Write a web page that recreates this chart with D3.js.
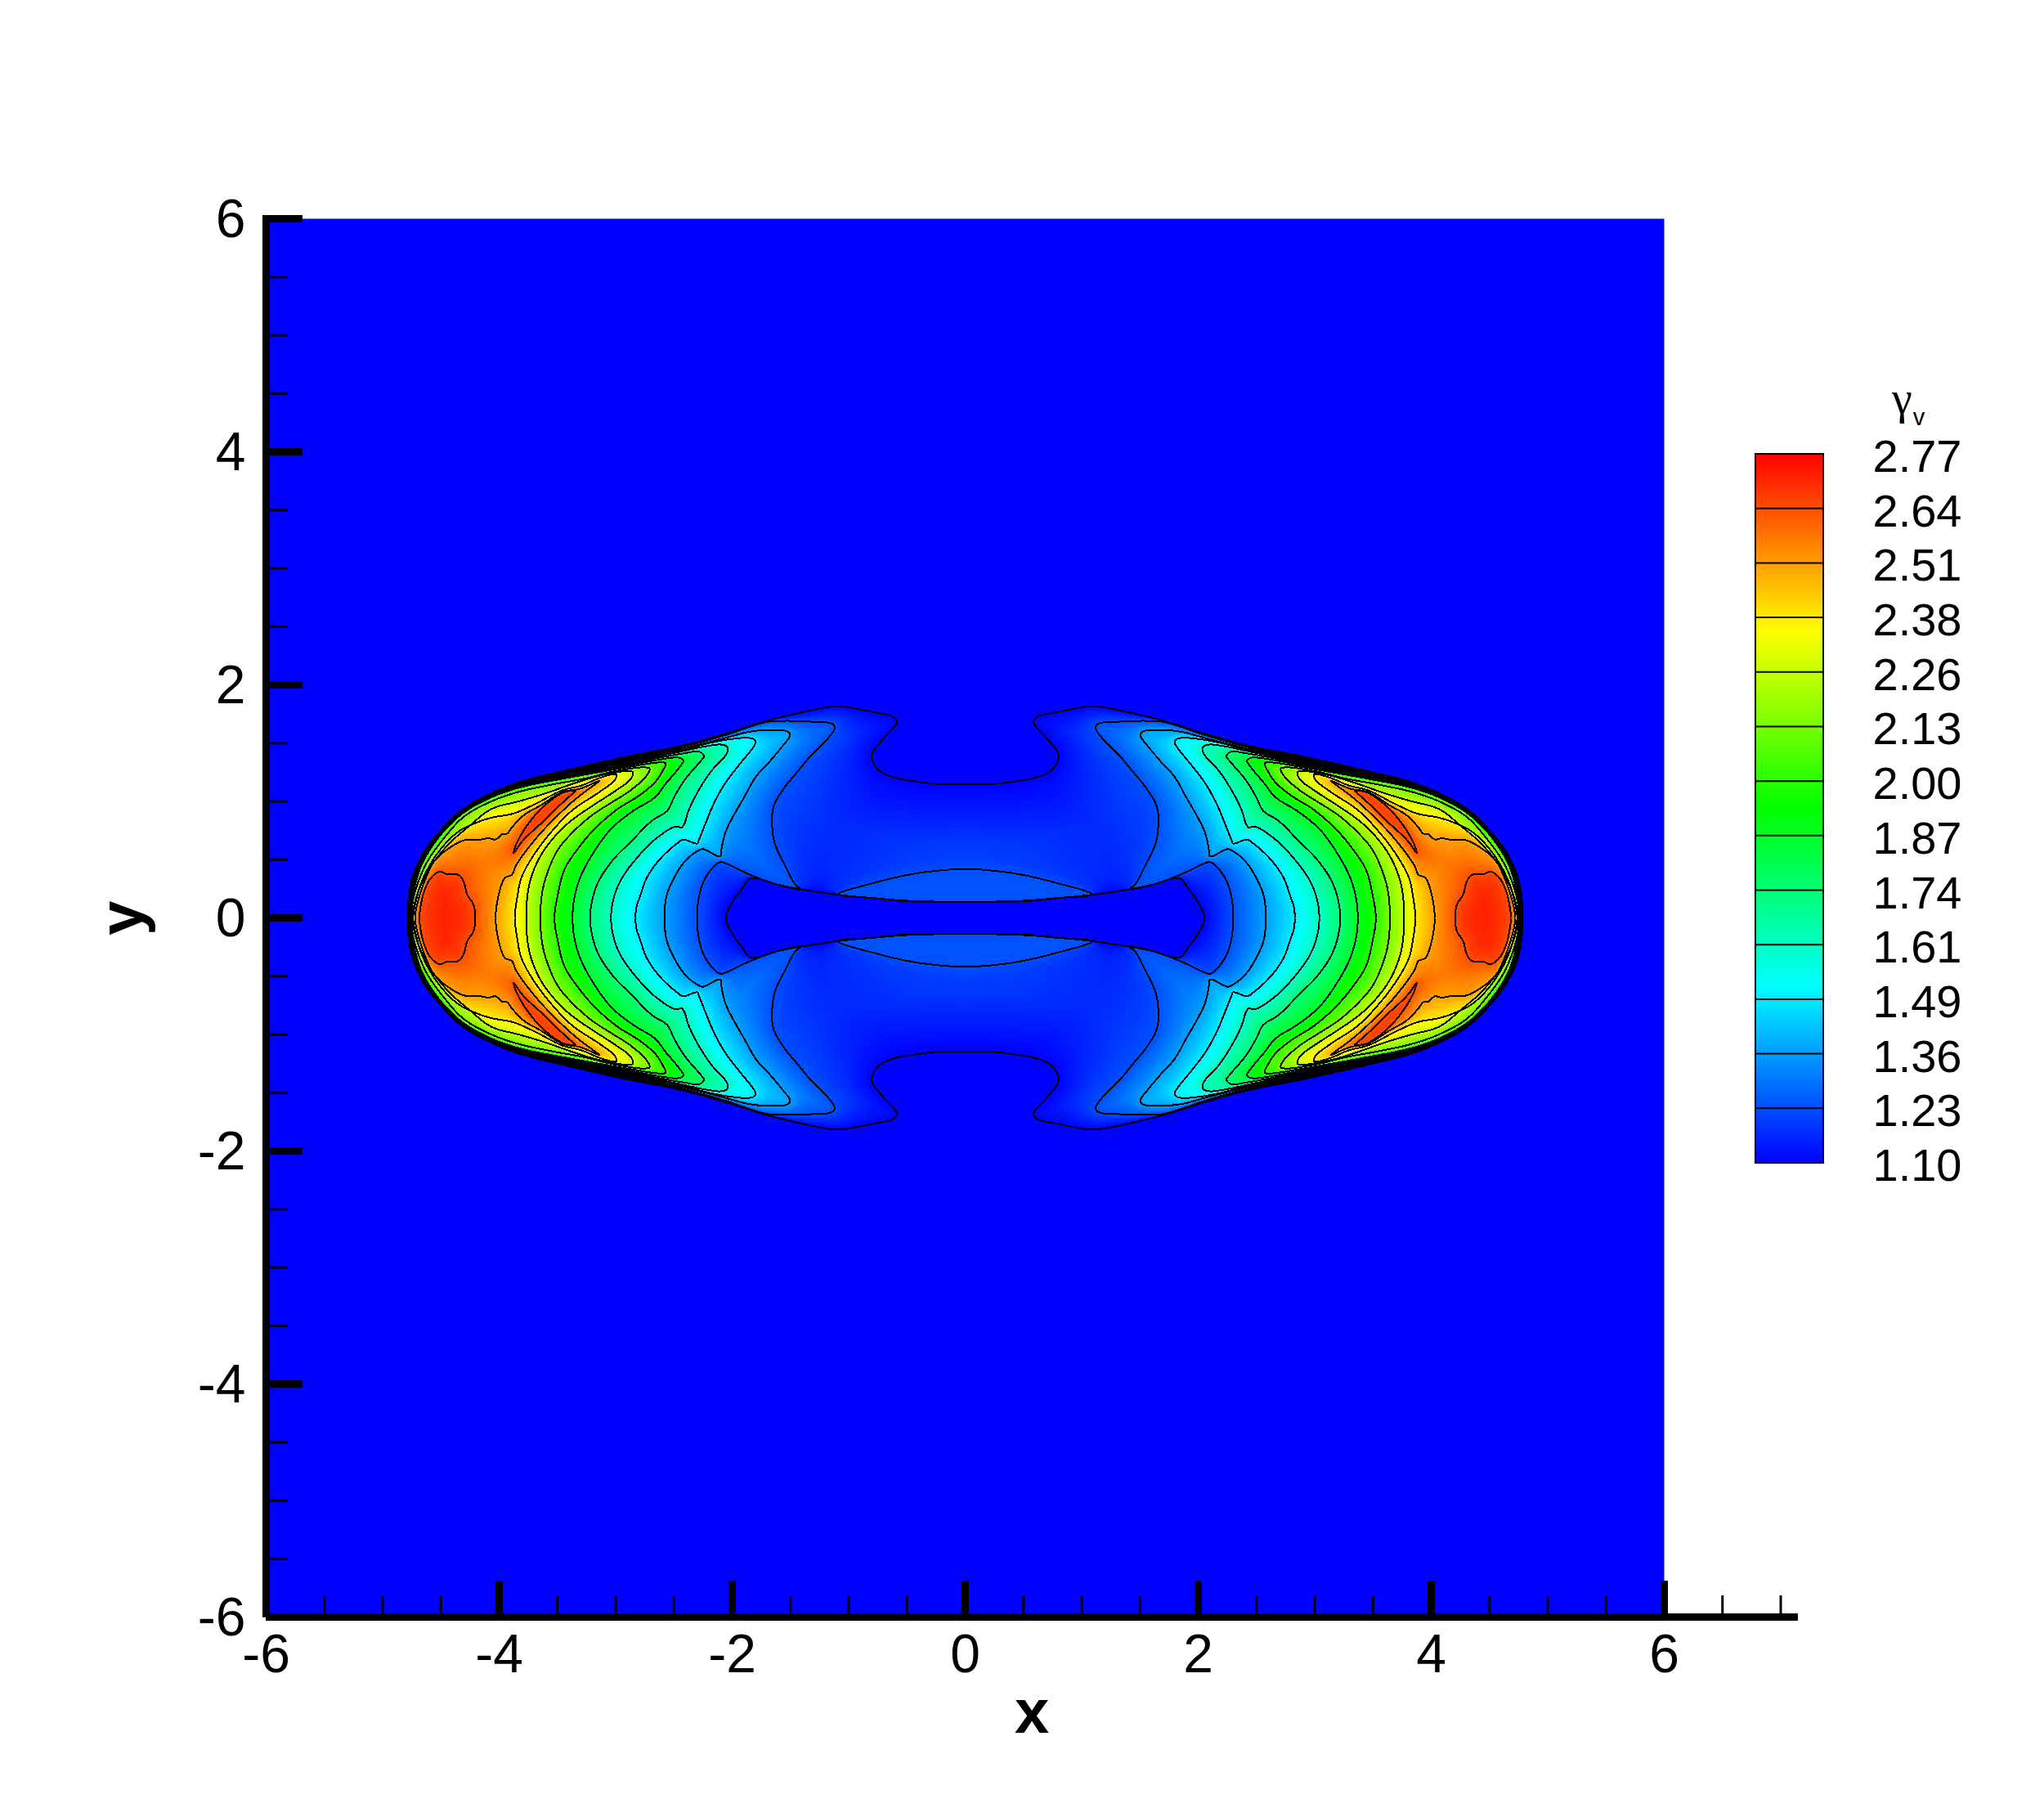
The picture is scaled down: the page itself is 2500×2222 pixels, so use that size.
<!DOCTYPE html>
<html><head><meta charset="utf-8">
<script src="https://cdn.jsdelivr.net/npm/d3@7"></script>
<style>html,body{margin:0;padding:0;background:#fff}svg{display:block}text{font-family:"Liberation Sans",Arial,sans-serif;fill:#000}</style>
</head><body><div id="chart"></div>
<script>
// colour bar labels and colour map stops
const legendLabels = ["2.77","2.64","2.51","2.38","2.26","2.13","2.00","1.87","1.74","1.61","1.49","1.36","1.23","1.10"];
const colorStops = [1.10,1.5175,1.935,2.3525,2.77];
const colorNames = ["#0000ff","#00ffff","#00ff00","#ffff00","#ff0000"];
const xMajor = [-6,-4,-2,0,2,4,6];
const xMinor = [-5.5,-5,-4.5,-3.5,-3,-2.5,-1.5,-1,-0.5,0.5,1,1.5,2.5,3,3.5,4.5,5,5.5,6.5,7];
const yMajor = [-6,-4,-2,0,2,4,6];
const yMinor = [-5.5,-5,-4.5,-3.5,-3,-2.5,-1.5,-1,-0.5,0.5,1,1.5,2.5,3,3.5,4.5,5,5.5];

// contour lines of gamma_v, one quadrant (x>=0, y>=0); the field is symmetric
const c110 = [[2.055,0],[1.985,.158],[1.915,.251],[1.84,.34],[1.611,.286],[1.412,.246],[1.073,.197],[.792,.169],[.558,.146],[.25,.135],[0,.135],[0,1.145],[.25,1.15],[.45,1.175],[.558,1.192],[.722,1.252],[.792,1.339],[.799,1.409],[.733,1.503],[.652,1.596],[.586,1.678],[.616,1.725],[.792,1.767],[1.049,1.814],[1.143,1.814],[1.494,1.744],[1.774,1.671],[2.008,1.596],[2.429,1.479],[2.897,1.386],[3.365,1.281],[3.833,1.164],[4.067,1.07],[4.3,.942],[4.487,.766],[4.651,.556],[4.745,.345],[4.78,.135],[4.785,0]];
const lens123 = [[0,.42],[.33,.395],[.558,.356],[.792,.298],[1.073,.216],[1.09,.2],[.8,.172],[.55,.15],[.25,.14],[0,.14]];
const c123 = [[2.30,0],[2.289,.158],[2.242,.321],[2.149,.45],[2.102,.478],[2.055,.469],[1.868,.38],[1.611,.286],[1.412,.246],[1.459,.286],[1.54,.438],[1.634,.637],[1.657,.789],[1.646,.953],[1.552,1.117],[1.447,1.245],[1.33,1.386],[1.19,1.526],[1.119,1.631],[1.143,1.666],[1.353,1.685],[1.681,1.685],[1.868,1.635],[2.008,1.585],[2.43,1.465],[2.897,1.373],[3.365,1.271],[3.833,1.157],[4.067,1.065],[4.3,.937],[4.487,.761],[4.649,.549],[4.739,.345],[4.782,0]];
const c136 = [[2.58,0],[2.565,.181],[2.51,.321],[2.406,.485],[2.289,.579],[2.247,.59],[2.102,.527],[2.09,.602],[2.055,.742],[1.985,.883],[1.891,1.046],[1.798,1.21],[1.681,1.339],[1.564,1.479],[1.505,1.561],[1.517,1.596],[1.681,1.613],[1.868,1.595],[2.0,1.56],[2.43,1.45],[2.897,1.359],[3.365,1.261],[3.833,1.151],[4.067,1.06],[4.3,.932],[4.487,.756],[4.648,.543],[4.734,.345],[4.778,0]];
const c149 = [[2.83,0],[2.82,.1],[2.792,.181],[2.733,.345],[2.617,.508],[2.476,.637],[2.418,.672],[2.301,.637],[2.289,.661],[2.219,.836],[2.149,.999],[2.055,1.163],[1.938,1.316],[1.809,1.479],[1.798,1.514],[1.833,1.542],[2.008,1.535],[2.2,1.5],[2.43,1.44],[2.897,1.346],[3.365,1.251],[3.833,1.144],[4.067,1.055],[4.3,.927],[4.487,.751],[4.646,.536],[4.728,.345],[4.775,0]];
const c161 = [[3.04,0],[3.014,.181],[2.944,.345],[2.803,.532],[2.663,.673],[2.488,.785],[2.429,.778],[2.371,.93],[2.289,1.093],[2.172,1.269],[2.055,1.397],[2.036,1.456],[2.078,1.486],[2.242,1.47],[2.43,1.43],[2.897,1.333],[3.365,1.241],[3.833,1.137],[4.067,1.05],[4.3,.922],[4.487,.746],[4.645,.529],[4.722,.345],[4.771,0]];
const c174 = [[3.22,0],[3.2,.158],[3.143,.322],[3.014,.509],[2.874,.649],[2.687,.836],[2.558,.918],[2.499,1.035],[2.406,1.187],[2.266,1.351],[2.242,1.386],[2.277,1.425],[2.429,1.41],[2.897,1.32],[3.365,1.231],[3.833,1.13],[4.067,1.045],[4.3,.917],[4.487,.741],[4.643,.522],[4.717,.345],[4.768,0]];
const c187 = [[3.37,0],[3.353,.181],[3.295,.369],[3.178,.579],[3.038,.766],[2.85,.918],[2.663,1.035],[2.57,1.152],[2.453,1.292],[2.418,1.35],[2.457,1.375],[2.616,1.36],[2.897,1.306],[3.365,1.221],[3.833,1.124],[4.067,1.04],[4.3,.912],[4.487,.736],[4.642,.516],[4.711,.345],[4.764,0]];
const c200 = [[3.525,0],[3.495,.206],[3.44,.415],[3.318,.602],[3.178,.766],[2.991,.929],[2.804,1.046],[2.663,1.163],[2.593,1.269],[2.57,1.327],[2.62,1.335],[2.897,1.293],[3.365,1.211],[3.833,1.117],[4.067,1.035],[4.3,.907],[4.487,.731],[4.64,.509],[4.705,.345],[4.761,0]];
const c213 = [[3.645,0],[3.636,.181],[3.6,.345],[3.5,.579],[3.365,.738],[3.201,.883],[3.038,.988],[2.874,1.093],[2.733,1.222],[2.71,1.285],[3.014,1.257],[3.248,1.199],[3.505,1.152],[3.833,1.082],[4.067,1.0],[4.3,.871],[4.464,.696],[4.628,.463],[4.733,.181],[4.752,0]];
const c226 = [[3.767,0],[3.739,.298],[3.645,.532],[3.505,.719],[3.365,.848],[3.178,.976],[3.014,1.082],[2.874,1.187],[2.85,1.245],[2.87,1.26],[3.131,1.222],[3.365,1.152],[3.599,1.07],[3.833,1.0],[4.067,.935],[4.254,.79],[4.441,.626],[4.604,.415],[4.71,.181],[4.745,0]];
const c238 = [[3.865,0],[3.844,.181],[3.809,.345],[3.692,.556],[3.528,.766],[3.365,.93],[3.154,1.07],[3.014,1.175],[2.991,1.222],[3.0,1.235],[3.142,1.199],[3.295,1.135],[3.458,1.095],[3.692,.977],[3.879,.895],[4.067,.86],[4.207,.813],[4.347,.743],[4.511,.579],[4.651,.345],[4.717,.135],[4.738,0]];
const c251 = [[4.03,0],[4.008,.181],[3.95,.345],[3.891,.369],[3.856,.45],[3.692,.673],[3.529,.848],[3.341,1.023],[3.154,1.164],[3.142,1.176],[3.3,1.11],[3.458,1.08],[3.645,.965],[3.786,.883],[3.879,.79],[3.938,.719],[3.973,.719],[4.031,.673],[4.09,.684],[4.184,.668],[4.3,.666],[4.441,.591],[4.558,.486],[4.628,.345],[4.686,.181],[4.721,0]];
const sliver264 = [[3.34,1.09],[3.435,1.082],[3.552,1.012],[3.669,.907],[3.786,.755],[3.856,.626],[3.875,.556],[3.809,.649],[3.716,.743],[3.599,.848],[3.482,.965],[3.365,1.07],[3.34,1.09]];
const island264 = [[4.207,0],[4.219,.111],[4.277,.205],[4.3,.298],[4.347,.369],[4.441,.373],[4.511,.397],[4.593,.334],[4.651,.205],[4.679,.064],[4.686,0]];
const contourLevels = [1.10,1.23,1.36,1.49,1.61,1.74,1.87,2.00,2.13,2.26,2.38,2.51,2.64];
const contourPoints = [[c110],[c123,lens123],[c136],[c149],[c161],[c174],[c187],[c200],[c213],[c226],[c238],[c251],[sliver264,island264]];

const W=2500,H=2222;
const x=d3.scaleLinear().domain([-6,6]).range([325.5,2035.5]);
const y=d3.scaleLinear().domain([-6,6]).range([1977.5,267.5]);
const xEnd=7.147;
const color=d3.scaleLinear().domain(colorStops).range(colorNames).interpolate(d3.interpolateRgb);
const legendStep=(2.77-1.10)/(legendLabels.length-1);
const legendY=d3.scaleLinear().domain([1.10,2.77]).range([1422,555]);

const svg=d3.select("#chart").append("svg").attr("width",W).attr("height",H).attr("viewBox",[0,0,W,H]);
svg.append("rect").attr("width",W).attr("height",H).attr("fill","#fff");
svg.append("rect").attr("x",x(-6)).attr("y",y(6)).attr("width",x(6)-x(-6)).attr("height",y(-6)-y(6)).attr("fill",color(1.10));

// edges lying on the symmetry axes are not part of a contour
const onAxis=(a,b)=>(a[0]===0&&b[0]===0)||(a[1]===0&&b[1]===0);
function splitRuns(r){const runs=[];let cur=[r[0]];for(let i=1;i<r.length;i++){if(onAxis(r[i-1],r[i])){runs.push(cur);cur=[r[i]];}else cur.push(r[i]);}runs.push(cur);return runs;}
// round a read contour between its read points (centripetal Catmull-Rom), arriving square on the symmetry axes
function ghost(e,n){if(e[1]===0)return [n[0],-n[1]];if(e[0]===0)return [-n[0],n[1]];return [2*e[0]-n[0],2*e[1]-n[1]];}
function roundRun(run,sub){
  if(run.length<3)return run;
  const p=[ghost(run[0],run[1]),...run,ghost(run[run.length-1],run[run.length-2])],out=[run[0]];
  const td=(a,b)=>Math.sqrt(Math.hypot(a[0]-b[0],a[1]-b[1]))||1e-6;
  const mix=(a,b,ta,tb,t)=>[a[0]+(b[0]-a[0])*(t-ta)/(tb-ta),a[1]+(b[1]-a[1])*(t-ta)/(tb-ta)];
  for(let i=1;i<p.length-2;i++){
    const t0=0,t1=t0+td(p[i-1],p[i]),t2=t1+td(p[i],p[i+1]),t3=t2+td(p[i+1],p[i+2]);
    for(let s=1;s<=sub;s++){
      if(s===sub){out.push(p[i+1]);break;}
      const t=t1+(t2-t1)*s/sub;
      const A1=mix(p[i-1],p[i],t0,t1,t),A2=mix(p[i],p[i+1],t1,t2,t),A3=mix(p[i+1],p[i+2],t2,t3,t);
      const B1=mix(A1,A2,t0,t2,t),B2=mix(A2,A3,t1,t3,t);
      out.push(mix(B1,B2,t1,t2,t));
    }
  }
  return out;
}
const contourRings=contourPoints.map(rs=>rs.map(r=>splitRuns(r).flatMap(run=>roundRun(run,4))));
const segs=contourRings.map(rs=>{const s=[];rs.forEach(r=>{for(let i=0;i<r.length-1;i++){if(!onAxis(r[i],r[i+1]))s.push(r[i][0],r[i][1],r[i+1][0],r[i+1][1]);}});return Float64Array.from(s);});
function dist(s,px,py){let m=Infinity;for(let i=0;i<s.length;i+=4){const ax=s[i],ay=s[i+1],dx=s[i+2]-ax,dy=s[i+3]-ay;let t=((px-ax)*dx+(py-ay)*dy)/(dx*dx+dy*dy||1);t=t<0?0:t>1?1:t;const ex=ax+t*dx-px,ey=ay+t*dy-py,d=ex*ex+ey*ey;if(d<m)m=d;}return Math.sqrt(m);}
function field(px,py){
  let k=-1;
  for(let i=0;i<contourRings.length;i++){
    if(contourRings[i].some(r=>d3.polygonContains(r,[px,py])))k=i;else break;
  }
  if(k<0)return 1.10;
  if(k===contourRings.length-1){const d=dist(segs[k],px,py);return contourLevels[k]+.09*(1-Math.exp(-d/.12));}
  const a=dist(segs[k],px,py),b=dist(segs[k+1],px,py);
  return contourLevels[k]+(contourLevels[k+1]-contourLevels[k])*a/(a+b);
}
// colour table
const N=1024,lut=new Uint8ClampedArray(N*3);
for(let i=0;i<N;i++){const c=d3.rgb(color(1.10+(2.77-1.10)*i/(N-1)));lut[i*3]=c.r;lut[i*3+1]=c.g;lut[i*3+2]=c.b;}

// shaded field, mirrored from the quadrant
const hw=Math.ceil(x(4.85)-x(0)),hh=Math.ceil(y(0)-y(1.87));
const cw=2*hw+1,chh=2*hh+1;
const cv=document.createElement("canvas");cv.width=cw;cv.height=chh;
const ctx=cv.getContext("2d"),img=ctx.createImageData(cw,chh);
const cx0=Math.floor(x(0)),cy0=Math.floor(y(0));
for(let j=0;j<=hh;j++){for(let i=0;i<=hw;i++){
  const v=field(x.invert(cx0+i+.5),y.invert(cy0-j+.5));
  const q=Math.max(0,Math.min(N-1,Math.round((v-1.10)/(2.77-1.10)*(N-1))));
  const r=lut[q*3],g=lut[q*3+1],b=lut[q*3+2];
  for(const [mx,my] of [[hw+i,hh-j],[hw-i,hh-j],[hw+i,hh+j],[hw-i,hh+j]]){
    const o=(my*cw+mx)*4;img.data[o]=r;img.data[o+1]=g;img.data[o+2]=b;img.data[o+3]=255;
  }
}}
ctx.putImageData(img,0,0);
svg.append("image").attr("x",cx0-hw).attr("y",cy0-hh).attr("width",cw).attr("height",chh).attr("href",cv.toDataURL("image/png")).style("image-rendering","pixelated");

// contour lines, all four quadrants
const line=d3.line().x(d=>x(d[0])).y(d=>y(d[1]));
const gC=svg.append("g").attr("fill","none").attr("stroke","#000").attr("stroke-width",2).attr("stroke-linejoin","round").attr("shape-rendering","crispEdges");
contourRings.forEach(rs=>rs.forEach(r=>{
  const runs=splitRuns(r);
  for(const sx of [1,-1])for(const sy of [1,-1])runs.forEach(run=>{
    gC.append("path").attr("d",line(run.map(p=>[sx*p[0],sy*p[1]])));
  });
}));

// axes
function styleAxis(g){g.select(".domain").remove();g.selectAll("line").attr("stroke","#000");}
const gxMinor=svg.append("g").attr("transform",`translate(0,${y(-6)})`).call(d3.axisBottom(x).tickValues(xMinor).tickSizeInner(-26.5).tickSizeOuter(0).tickFormat("").offset(0));
styleAxis(gxMinor);gxMinor.selectAll("line").attr("stroke-width",3);
const gyMinor=svg.append("g").attr("transform",`translate(${x(-6)},0)`).call(d3.axisLeft(y).tickValues(yMinor).tickSizeInner(-26.5).tickSizeOuter(0).tickFormat("").offset(0));
styleAxis(gyMinor);gyMinor.selectAll("line").attr("stroke-width",3);
const gx=svg.append("g").attr("transform",`translate(0,${y(-6)})`).call(d3.axisBottom(x).tickValues(xMajor).tickSizeInner(-44.5).tickSizeOuter(0).tickFormat(d3.format("d")).offset(0));
styleAxis(gx);gx.selectAll("line").attr("stroke-width",9);
gx.selectAll("text").attr("y",67.5).attr("dy",0).attr("font-size",66).attr("font-family","Liberation Sans").text(d=>String(d));
const gy=svg.append("g").attr("transform",`translate(${x(-6)},0)`).call(d3.axisLeft(y).tickValues(yMajor).tickSizeInner(-44.5).tickSizeOuter(0).tickFormat(d3.format("d")).offset(0));
styleAxis(gy);gy.selectAll("line").attr("stroke-width",9);
gy.selectAll("text").attr("x",-25).attr("dy",0).attr("y",22).attr("font-size",66).attr("font-family","Liberation Sans").attr("text-anchor","end").text(d=>String(d));
svg.append("line").attr("x1",x(-6)).attr("x2",x(-6)).attr("y1",y(6)-4.5).attr("y2",y(-6)).attr("stroke","#000").attr("stroke-width",9);
svg.append("line").attr("x1",x(-6)-0.5).attr("x2",x(xEnd)).attr("y1",y(-6)).attr("y2",y(-6)).attr("stroke","#000").attr("stroke-width",9);

svg.append("text").attr("x",(x(-6)+x(xEnd))/2).attr("y",2119).attr("text-anchor","middle").attr("font-size",76).attr("font-weight","bold").text("x");
svg.append("text").attr("transform",`translate(174,${y(0)}) rotate(-90)`).attr("text-anchor","middle").attr("font-size",76).attr("font-weight","bold").text("y");

// colour bar
const defs=svg.append("defs");
const grad=defs.append("linearGradient").attr("id","bar").attr("x1",0).attr("x2",0).attr("y1",1).attr("y2",0);
colorStops.forEach((v,i)=>grad.append("stop").attr("offset",(v-1.10)/(2.77-1.10)).attr("stop-color",colorNames[i]));
svg.append("rect").attr("x",2147).attr("y",legendY(2.77)).attr("width",83).attr("height",legendY(1.10)-legendY(2.77)).attr("fill","url(#bar)").attr("stroke","#000").attr("stroke-width",2);
const gl=svg.append("g");
const legendPos=(d,i)=>legendY(2.77-i*legendStep);
gl.selectAll("line").data(legendLabels).join("line").attr("x1",2147).attr("x2",2230).attr("y1",legendPos).attr("y2",legendPos).attr("stroke","#000").attr("stroke-width",2);
gl.selectAll("text").data(legendLabels).join("text").attr("x",2290.5).attr("y",(d,i)=>legendPos(d,i)+22).attr("font-size",56).text(d=>d);
const title=svg.append("text").attr("x",2314).attr("y",506);
title.append("tspan").attr("font-size",56).style("font-family","'Liberation Serif',serif").text("γ");
title.append("tspan").attr("font-size",29).attr("dy",14).attr("dx",1).text("v");
</script></body></html>
